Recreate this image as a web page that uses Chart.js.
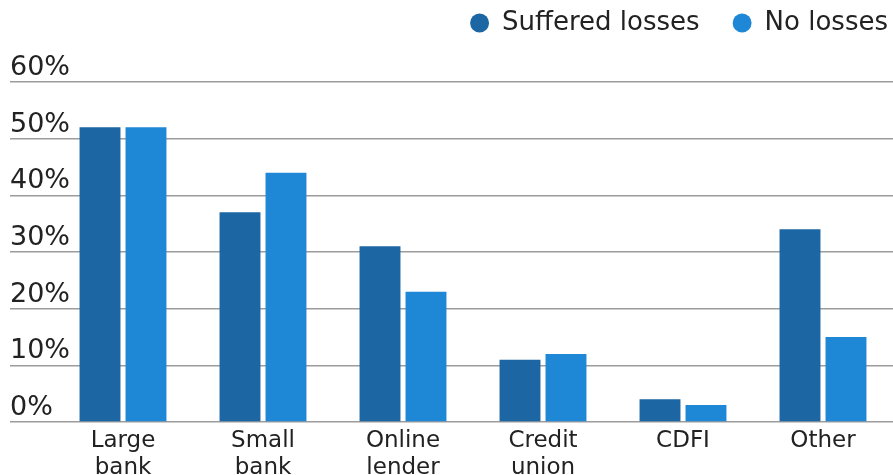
<!DOCTYPE html>
<html>
<head>
<meta charset="utf-8">
<script src="https://cdn.jsdelivr.net/npm/chart.js@4"></script>
<style>
  html, body { margin: 0; padding: 0; background: #fff; overflow: hidden; }
  #wrap { position: relative; width: 893px; height: 505px; margin-top: -23px; }
</style>
</head>
<body>
<div id="wrap"><canvas id="lenders"></canvas></div>
<script>
// lender types (multi-line labels)
var labelLender = [['Large', 'bank'], ['Small', 'bank'], ['Online', 'lender'], ['Credit', 'union'], ['CDFI'], ['Other']];
var suffered = [52, 37, 31, 11, 4, 34];
var noLosses = [52, 44, 23, 12, 3, 15];
var yTicks = [0, 10, 20, 30, 40, 50, 60];

Chart.defaults.font.family = "'DejaVu Sans', sans-serif";
Chart.defaults.color = '#222';

// legend sits high, leave a gap under it and push it to the right edge
var legendSpacing = {
    id: 'legendSpacing',
    beforeInit: function (chart) {
        var fit = chart.legend.fit;
        chart.legend.fit = function () {
            fit.bind(chart.legend)();
            this.height = 105;
        };
    },
    afterLayout: function (chart) {
        chart.legend.left += 28;
        chart.legend.right += 28;
    }
};

var lenderchart = document.getElementById('lenders');

var myChart = new Chart(lenderchart, {
type: 'bar',
data: {
    labels: labelLender,
    datasets: [{
        label: 'Suffered losses',
        data: suffered,
        backgroundColor: '#1b66a3',
        borderWidth: 0,
        categoryPercentage: 0.657,
        barPercentage: 0.89
    }, {
        label: 'No losses',
        data: noLosses,
        backgroundColor: '#1f88d6',
        borderWidth: 0,
        categoryPercentage: 0.657,
        barPercentage: 0.89
    }]
},
options: {
    responsive: true,
    maintainAspectRatio: false,
    animation: false,
    layout: {
        padding: { left: 10, right: 0, top: 0, bottom: 0 }
    },
    plugins: {
        legend: {
            display: true,
            position: 'top',
            align: 'end',
            labels: {
                usePointStyle: true,
                pointStyle: 'circle',
                boxWidth: 19,
                boxHeight: 13.4,
                padding: 33,
                color: '#222',
                font: { size: 26 }
            }
        },
        tooltip: { enabled: false }
    },
    scales: {
        x: {
            grid: { display: false, drawTicks: false },
            border: { display: false },
            ticks: {
                padding: 6,
                maxRotation: 0,
                autoSkip: false,
                color: '#222',
                font: { size: 23, lineHeight: 1.17 }
            },
            afterFit: function (scale) { scale.height = 60; }
        },
        y: {
            min: 0,
            max: 60,
            afterBuildTicks: function (scale) {
                scale.ticks = yTicks.map(function (v) { return { value: v }; });
            },
            grid: { color: '#9c9c9c', lineWidth: 1.5, tickLength: 43 },
            border: { display: false },
            ticks: {
                mirror: true,
                padding: -43,
                labelOffset: -14,
                color: '#222',
                font: { size: 27 },
                callback: function (v) { return v + '%'; }
            },
            afterFit: function (scale) { scale.width = 43; }
        }
    }
},
plugins: [legendSpacing]
});
</script>
</body>
</html>
